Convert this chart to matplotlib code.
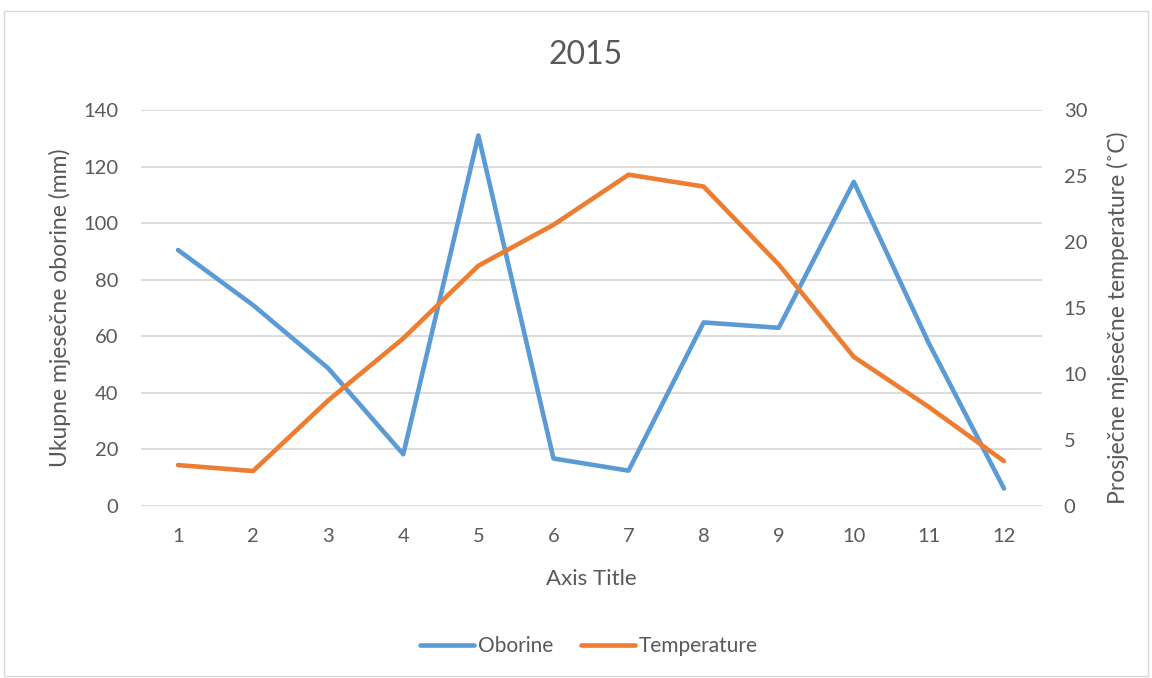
import matplotlib
matplotlib.use("Agg")
import matplotlib.pyplot as plt
from matplotlib.patches import Rectangle
from matplotlib.lines import Line2D

months = [1, 2, 3, 4, 5, 6, 7, 8, 9, 10, 11, 12]
oborine = [90.5, 71.0, 48.7, 18.3, 131.0, 16.8, 12.5, 64.9, 63.0, 114.6, 57.5, 6.2]
temperature = [3.1, 2.65, 8.0, 12.7, 18.2, 21.3, 25.1, 24.2, 18.3, 11.3, 7.5, 3.4]
left_ticks = [0, 20, 40, 60, 80, 100, 120, 140]
right_ticks = [0, 5, 10, 15, 20, 25, 30]

BLUE = "#5B9BD5"
ORANGE = "#ED7D31"
TXT = "#595959"
GRID = "#D9D9D9"

plt.rcParams['font.family'] = ['Lato', 'DejaVu Sans']

W, H = 1152, 678
fig = plt.figure(figsize=(W / 100, H / 100), dpi=100)
fig.patches.append(Rectangle((4 / W, 1 - 676 / H), 1144 / W, (676 - 11) / H,
                             transform=fig.transFigure, fill=False,
                             edgecolor=GRID, linewidth=1.0))

ax = fig.add_axes([140.5 / W, 1 - 506 / H, 901 / W, 396 / H])
ax2 = ax.twinx()

ax.set_xlim(0.5, 12.5)
ax.set_ylim(0, 140)
ax2.set_ylim(0, 30)
ax.set_yticks(left_ticks)
ax2.set_yticks(right_ticks)
ax.set_xticks(months)
ax.set_xticklabels([str(m) for m in months])

for a in (ax, ax2):
    for s in a.spines.values():
        s.set_visible(False)
    a.tick_params(length=0, colors=TXT, labelsize=14.5)
ax.tick_params(axis='y', pad=16)
ax2.tick_params(axis='y', pad=16)
ax.tick_params(axis='x', pad=16)

ax.grid(axis='y', color=GRID, linewidth=1.3)
ax.set_axisbelow(True)

ax.plot(months, oborine, color=BLUE, linewidth=3.3, solid_capstyle='round',
        solid_joinstyle='round', zorder=3)
ax2.plot(months, temperature, color=ORANGE, linewidth=3.3, solid_capstyle='round',
         solid_joinstyle='round', zorder=3)

fig.text(60 / W, 1 - 308 / H, "Ukupne mjesečne oborine (mm)", rotation=90,
         ha='center', va='center', color=TXT, fontsize=16.5)
fig.text(1118 / W, 1 - 318 / H, "Prosječne mjesečne temperature (˚C)", rotation=90,
         ha='center', va='center', color=TXT, fontsize=16.5)
fig.text(591 / W, 1 - 579 / H, "Axis Title", ha='center', va='center',
         color=TXT, fontsize=16)
fig.text(585.5 / W, 1 - 55 / H, "2015", ha='center', va='center', color=TXT, fontsize=23)

handles = [Line2D([0], [0], color=BLUE, linewidth=3.3, solid_capstyle='round'),
           Line2D([0], [0], color=ORANGE, linewidth=3.3, solid_capstyle='round')]
fig.legend(handles, ["Oborine", "Temperature"], loc='center',
           bbox_to_anchor=(589 / W, 1 - 646 / H), ncol=2, frameon=False,
           fontsize=15, labelcolor=TXT, handlelength=2.6, handletextpad=0.2,
           columnspacing=1.3)

fig.savefig("out.png", dpi=100)
